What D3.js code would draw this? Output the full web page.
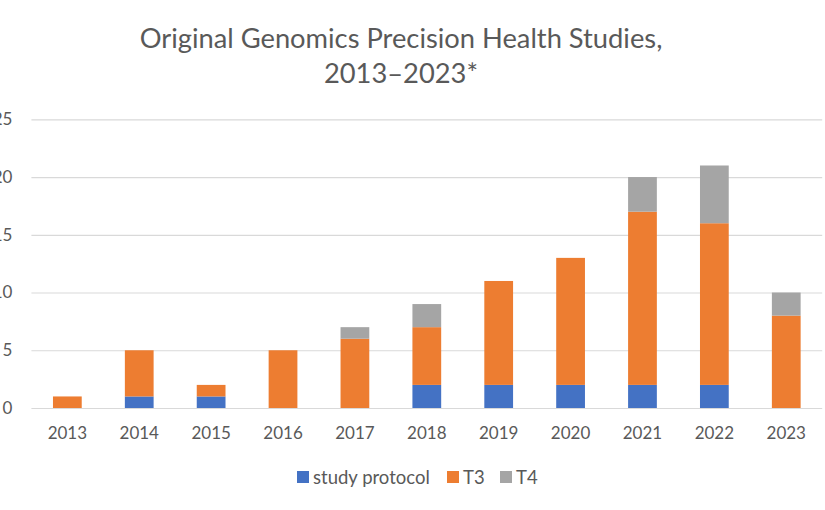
<!DOCTYPE html>
<html><head><meta charset="utf-8">
<script src="https://cdn.jsdelivr.net/npm/d3@7"></script>
<style>body{margin:0;background:#fff;} svg{display:block;}</style>
</head><body>
<svg id="c" width="825" height="510"></svg>
<script>
const years = ["2013","2014","2015","2016","2017","2018","2019","2020","2021","2022","2023"];
const studyProtocol = [0,1,1,0,0,2,2,2,2,2,0];
const t3 = [1,4,1,5,6,5,9,11,15,14,8];
const t4 = [0,0,0,0,1,2,0,0,3,5,2];
const seriesNames = ["study protocol","T3","T4"];
const seriesColors = ["#4472C4","#ED7D31","#A5A5A5"];
const yTicks = [0,5,10,15,20,25];
const titleLines = ["Original Genomics Precision Health Studies,","2013\u20132023*"];

const font = "Lato, 'Open Sans', sans-serif";
const svg = d3.select("#c");
const x = d3.scaleBand().domain(years).range([31.4, 822.2]).paddingInner(0.6).paddingOuter(0.3);
const y = d3.scaleLinear().domain([0,25]).range([408, 119.3]);

const rows = years.map((yr,i)=>({year:yr, "study protocol":studyProtocol[i], "T3":t3[i], "T4":t4[i]}));
const stack = d3.stack().keys(seriesNames)(rows);

// gridlines
const yAxis = d3.axisLeft(y).tickValues(yTicks).tickSize(-(822.2-31.4)).tickPadding(19);
const gy = svg.append("g").attr("transform","translate(31.4,0)").call(yAxis);
gy.select(".domain").remove();
gy.selectAll(".tick line").attr("stroke","#D9D9D9").attr("stroke-width",1.2);
gy.selectAll(".tick text").attr("fill","#595959").style("font-family",font).style("font-size","17px");

// bars
svg.append("g").selectAll("g").data(stack).join("g")
  .attr("fill",(d,i)=>seriesColors[i])
  .selectAll("rect").data(d=>d.filter(s=>s[1]-s[0]>0)).join("rect")
  .attr("x",d=>x(d.data.year)).attr("width",x.bandwidth())
  .attr("y",d=>y(d[1])).attr("height",d=>y(d[0])-y(d[1]));

// x axis
const xAxis = d3.axisBottom(x).tickSize(0).tickPadding(19);
const gx = svg.append("g").attr("transform","translate(0,408)").call(xAxis);
gx.select(".domain").remove();
gx.selectAll(".tick text").attr("fill","#595959").style("font-family",font).style("font-size","17px");

// title
svg.append("g").selectAll("text").data(titleLines).join("text")
  .attr("x",401).attr("y",(d,i)=>48+i*35).attr("text-anchor","middle")
  .attr("fill","#595959").style("font-family",font).style("font-size","27.3px").text(d=>d);

// legend
const leg = svg.append("g");
const legX = [297, 447, 500];
seriesNames.forEach((n,i)=>{
  leg.append("rect").attr("x",legX[i]).attr("y",471).attr("width",12).attr("height",12).attr("fill",seriesColors[i]);
  leg.append("text").attr("x",legX[i]+16).attr("y",484).attr("fill","#595959")
    .style("font-family",font).style("font-size","18.5px").text(n);
});
</script>
</body></html>
